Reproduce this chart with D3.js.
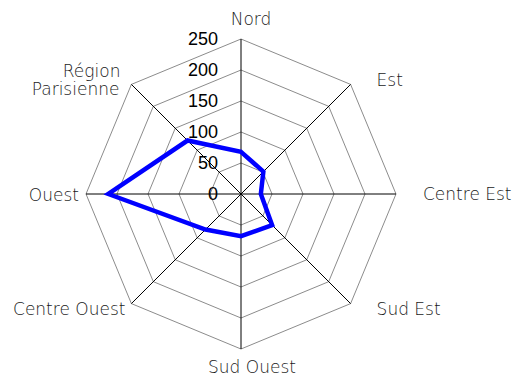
<!DOCTYPE html>
<html>
<head>
<meta charset="utf-8">
<script src="https://cdn.jsdelivr.net/npm/d3@7/dist/d3.min.js"></script>
<style>
  html, body { margin: 0; padding: 0; background: #fff; }
  svg { display: block; }
</style>
</head>
<body>
<svg id="chart" width="516" height="381"></svg>
<script>
// Regions, clockwise from the top
const regions = ["Nord", "Est", "Centre Est", "Sud Est", "Sud Ouest", "Centre Ouest", "Ouest", "Région Parisienne"];
// Number of answers per region
const values = [68, 51, 32, 71, 68, 81, 214, 122];
// Radial scale ticks
const ticks = [0, 50, 100, 150, 200, 250];

// Label placement around the web: offset from the outer vertex + anchor
const labelLayout = [
  { dx: 10,  dy: -14, anchor: "middle" },
  { dx: 26,  dy: 2,   anchor: "start" },
  { dx: 27,  dy: 6,   anchor: "start" },
  { dx: 26,  dy: 11,  anchor: "start" },
  { dx: 11,  dy: 24,  anchor: "middle" },
  { dx: -6,  dy: 11,  anchor: "end" },
  { dx: -7,  dy: 7,   anchor: "end" },
  { dx: -12, dy: 11,  anchor: "end" }
];

const svg = d3.select("#chart");
const cx = 241, cy = 194, R = 155;

const r = d3.scaleLinear().domain([0, 250]).range([0, R]);
const angle = d3.scalePoint().domain(regions.concat(["_end"])).range([0, 2 * Math.PI]);

const g = svg.append("g").attr("transform", `translate(${cx},${cy})`);

const pt = (a, rad) => [rad * Math.sin(a), -rad * Math.cos(a)];

// Concentric octagonal grid
const ring = d3.line().curve(d3.curveLinearClosed);
ticks.filter(t => t > 0).forEach(t => {
  g.append("path")
    .attr("d", ring(regions.map(c => pt(angle(c), r(t)))))
    .attr("fill", "none")
    .attr("stroke", "#8c8c8c")
    .attr("stroke-width", 1);
});

// Spokes
regions.forEach(c => {
  const [x, y] = pt(angle(c), r(250));
  g.append("line")
    .attr("x1", 0).attr("y1", 0).attr("x2", x).attr("y2", y)
    .attr("stroke", "#000").attr("stroke-width", 1);
});

// Tick labels along the vertical axis
g.selectAll("text.tick").data(ticks).join("text")
  .attr("class", "tick")
  .attr("x", -23)
  .attr("y", d => -r(d))
  .attr("dy", "0.36em")
  .attr("text-anchor", "end")
  .attr("font-family", "Liberation Sans, Arial, sans-serif")
  .attr("font-size", 18)
  .attr("fill", "#000")
  .text(d => d);

// Data polygon
const radar = d3.lineRadial()
  .angle((d, i) => angle(regions[i]))
  .radius(d => r(d))
  .curve(d3.curveLinearClosed);

g.append("path")
  .datum(values)
  .attr("d", radar)
  .attr("fill", "none")
  .attr("stroke", "#0000ff")
  .attr("stroke-width", 4.5)
  .attr("stroke-linejoin", "miter");

// Region labels
regions.forEach((c, i) => {
  const [x, y] = pt(angle(c), r(250));
  const L = labelLayout[i];
  const t = g.append("text")
    .attr("x", x + L.dx)
    .attr("y", y + L.dy)
    .attr("text-anchor", L.anchor)
    .attr("font-family", "'DejaVu Sans', sans-serif")
    .attr("font-weight", 200)
    .attr("font-size", 17)
    .attr("fill", "#1a1a1a");
  const words = c === "Région Parisienne" ? ["Région", "Parisienne"] : [c];
  if (words.length === 1) {
    t.text(c);
  } else {
    t.attr("y", y + L.dy - 18);
    words.forEach((w, k) => {
      t.append("tspan").attr("x", x + L.dx + (k === 0 ? 1 : 0)).attr("dy", k === 0 ? 0 : 18).text(w);
    });
  }
});
</script>
</body>
</html>
